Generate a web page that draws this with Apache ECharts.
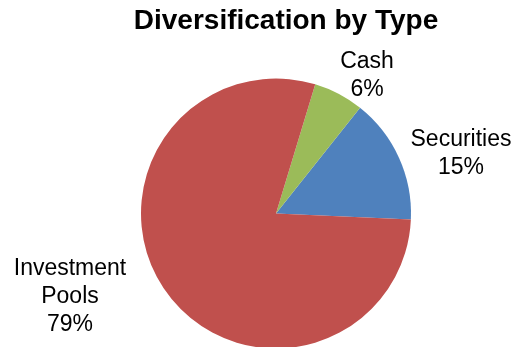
<!DOCTYPE html>
<html>
<head>
<meta charset="utf-8">
<script src="https://cdn.jsdelivr.net/npm/echarts@6/dist/echarts.min.js"></script>
<style>
  html, body { margin: 0; padding: 0; background: #fff; }
  #chart { width: 521px; height: 347px; }
</style>
</head>
<body>
<div id="chart"></div>
<script>
// Portfolio split by holding type (percent of total)
const categories = ['Securities', 'Cash', 'Investment Pools'];
const shares = [15, 6, 79];
const labelNames = ['Securities', 'Cash', 'Investment\nPools'];

// Slice colours, in category order
const sliceColors = ['#4F81BD', '#9BBB59', '#C0504D'];

// Where each label's centre sits on the canvas
const labelCentres = [[461, 154], [367, 76], [70, 297]];

const chart = echarts.init(document.getElementById('chart'), null, { renderer: 'canvas' });

chart.setOption({
  animation: false,
  title: {
    text: 'Diversification by Type',
    left: 281,
    top: 2,
    textAlign: 'center',
    textStyle: {
      fontFamily: 'Liberation Sans, Arial, sans-serif',
      fontWeight: 'bold',
      fontSize: 28,
      color: '#000'
    }
  },
  series: [{
    type: 'pie',
    center: [276, 213.5],
    radius: 135,
    startAngle: -2.5,
    clockwise: false,
    avoidLabelOverlap: false,
    label: {
      show: true,
      position: 'outside',
      fontFamily: 'Liberation Sans, Arial, sans-serif',
      fontSize: 23,
      lineHeight: 28,
      color: '#000',
      align: 'center',
      formatter: p => labelNames[p.dataIndex] + '\n' + p.value + '%'
    },
    labelLine: { show: false },
    labelLayout: p => ({
      x: labelCentres[p.dataIndex][0],
      y: labelCentres[p.dataIndex][1],
      align: 'center',
      verticalAlign: 'middle'
    }),
    itemStyle: { borderWidth: 0 },
    emphasis: { disabled: true },
    data: categories.map((name, i) => ({
      name,
      value: shares[i],
      itemStyle: { color: sliceColors[i] }
    }))
  }]
});
</script>
</body>
</html>
